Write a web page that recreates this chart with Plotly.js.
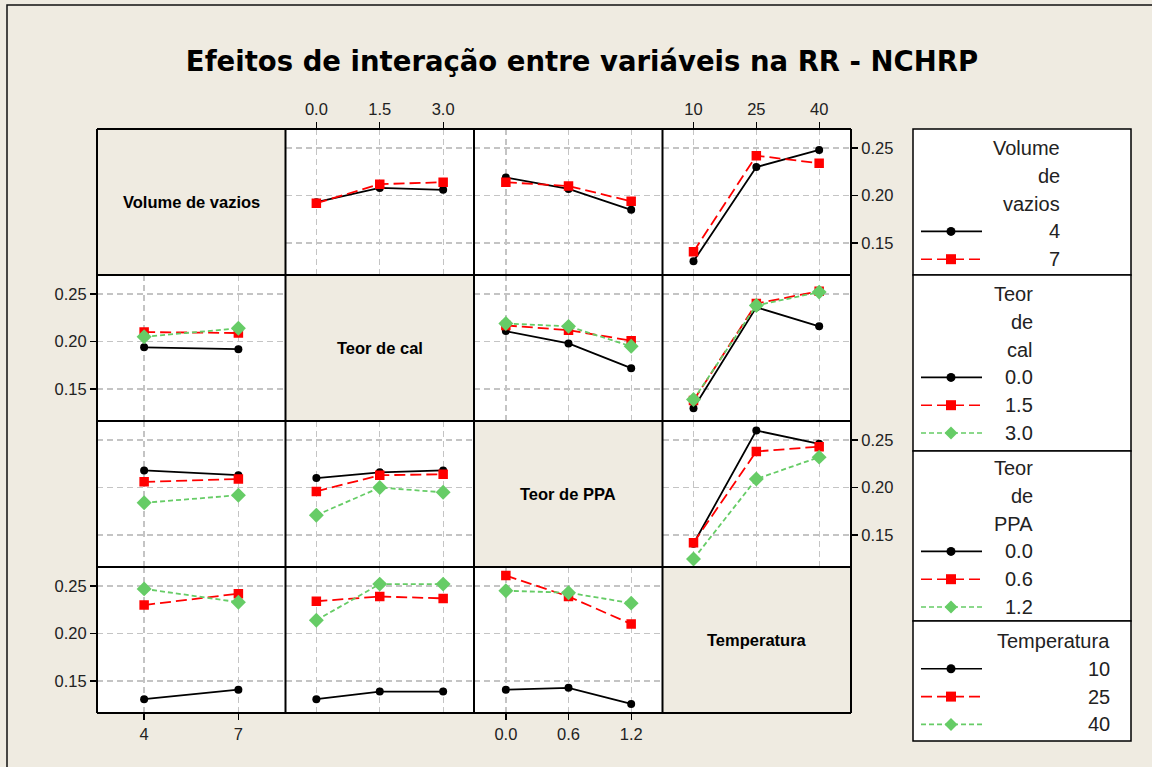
<!DOCTYPE html>
<html>
<head>
<meta charset="utf-8">
<script src="https://cdn.plot.ly/plotly-3.0.1.min.js"></script>
<style>
html,body{margin:0;padding:0;background:#EFEBE1;}
#chart{width:1152px;height:767px;}
</style>
</head>
<body>
<div id="chart"></div>
<script>
// ---------- data ----------
const chartTitle = "Efeitos de interação entre variáveis na RR - NCHRP";
const factorNames = ["Volume de vazios", "Teor de cal", "Teor de PPA", "Temperatura"];
const legendTitles = [["Volume", "de", "vazios"], ["Teor", "de", "cal"], ["Teor", "de", "PPA"], ["Temperatura"]];

const volLevels = [4, 7];
const calLevels = [0, 1.5, 3.0];
const ppaLevels = [0, 0.6, 1.2];
const tempLevels = [10, 25, 40];

const volLabels = ["4", "7"];
const calLabels = ["0.0", "1.5", "3.0"];
const ppaLabels = ["0.0", "0.6", "1.2"];
const tempLabels = ["10", "25", "40"];

const yTickVals = [0.15, 0.20, 0.25];
const yTickText = ["0.15", "0.20", "0.25"];

// Row 1: Volume de vazios (4, 7)
const vv4_cal = [0.193, 0.208, 0.206];
const vv7_cal = [0.192, 0.212, 0.214];
const vv4_ppa = [0.219, 0.207, 0.185];
const vv7_ppa = [0.214, 0.210, 0.194];
const vv4_temp = [0.131, 0.230, 0.248];
const vv7_temp = [0.141, 0.242, 0.234];

// Row 2: Teor de cal (0.0, 1.5, 3.0)
const cal0_vol = [0.194, 0.192];
const cal15_vol = [0.210, 0.209];
const cal30_vol = [0.205, 0.214];
const cal0_ppa = [0.211, 0.198, 0.172];
const cal15_ppa = [0.217, 0.212, 0.201];
const cal30_ppa = [0.219, 0.216, 0.195];
const cal0_temp = [0.130, 0.236, 0.216];
const cal15_temp = [0.138, 0.240, 0.253];
const cal30_temp = [0.139, 0.238, 0.252];

// Row 3: Teor de PPA (0.0, 0.6, 1.2)
const ppa0_vol = [0.218, 0.213];
const ppa06_vol = [0.206, 0.209];
const ppa12_vol = [0.184, 0.192];
const ppa0_cal = [0.210, 0.216, 0.218];
const ppa06_cal = [0.196, 0.213, 0.214];
const ppa12_cal = [0.171, 0.200, 0.195];
const ppa0_temp = [0.141, 0.260, 0.246];
const ppa06_temp = [0.142, 0.238, 0.243];
const ppa12_temp = [0.125, 0.209, 0.232];

// Row 4: Temperatura (10, 25, 40)
const t10_vol = [0.131, 0.141];
const t25_vol = [0.230, 0.242];
const t40_vol = [0.247, 0.233];
const t10_cal = [0.131, 0.139, 0.139];
const t25_cal = [0.234, 0.239, 0.237];
const t40_cal = [0.214, 0.252, 0.252];
const t10_ppa = [0.141, 0.143, 0.126];
const t25_ppa = [0.261, 0.239, 0.210];
const t40_ppa = [0.245, 0.243, 0.232];

// ---------- structure ----------
const levels = [volLevels, calLevels, ppaLevels, tempLevels];
const levelLabels = [volLabels, calLabels, ppaLabels, tempLabels];
const cellData = {
  "0-1": [vv4_cal, vv7_cal], "0-2": [vv4_ppa, vv7_ppa], "0-3": [vv4_temp, vv7_temp],
  "1-0": [cal0_vol, cal15_vol, cal30_vol], "1-2": [cal0_ppa, cal15_ppa, cal30_ppa], "1-3": [cal0_temp, cal15_temp, cal30_temp],
  "2-0": [ppa0_vol, ppa06_vol, ppa12_vol], "2-1": [ppa0_cal, ppa06_cal, ppa12_cal], "2-3": [ppa0_temp, ppa06_temp, ppa12_temp],
  "3-0": [t10_vol, t25_vol, t40_vol], "3-1": [t10_cal, t25_cal, t40_cal], "3-2": [t10_ppa, t25_ppa, t40_ppa]
};

const BEIGE = "#EFEBE1";
const FONT = "Liberation Sans, Arial, sans-serif";
const TFONT = "DejaVu Sans, Verdana, sans-serif";
const styles = [
  {color: "#000000", dash: "solid", symbol: "circle", size: 8},
  {color: "#FF0000", dash: "11px,5px", symbol: "square", size: 9.5},
  {color: "#66CC66", dash: "5px,3px", symbol: "diamond", size: 11.5}
];
const xRanges = [[2.5, 8.5], [-0.73, 3.73], [-0.305, 1.5], [2.6, 47.6]];
const yRange = [0.1165, 0.27];

const W = 1152, H = 767, PL = 97, PR = 851, PT = 129, PB = 713;
const px = x => (x - PL) / (PR - PL);
const py = y => 1 - (y - PT) / (PB - PT);

const traces = [];
const layout = {
  width: W, height: H,
  paper_bgcolor: BEIGE, plot_bgcolor: "#FFFFFF",
  margin: {l: PL, r: W - PR, t: PT, b: H - PB, pad: 0},
  showlegend: false,
  font: {family: FONT, color: "#222"},
  title: {
    text: "<b>" + chartTitle + "</b>",
    font: {family: TFONT, size: 27.5, color: "#000"},
    x: 582 / W, xanchor: "center", y: 1 - 61 / H, yanchor: "middle"
  },
  shapes: [], annotations: []
};

for (let i = 0; i < 4; i++) {
  for (let j = 0; j < 4; j++) {
    const k = i * 4 + j + 1;
    const xa = "xaxis" + (k === 1 ? "" : k);
    const ya = "yaxis" + (k === 1 ? "" : k);
    const xr = "x" + (k === 1 ? "" : k);
    const yr = "y" + (k === 1 ? "" : k);
    const diag = i === j;
    const showTopX = (i === 0 && (j === 1 || j === 3));
    const showBotX = (i === 3 && (j === 0 || j === 2));
    const showRightY = (j === 3 && (i === 0 || i === 2));
    const showLeftY = (j === 0 && (i === 1 || i === 3));
    layout[xa] = {
      domain: [j * 0.25, (j + 1) * 0.25], anchor: yr, range: xRanges[j],
      tickvals: levels[j], ticktext: levelLabels[j],
      showgrid: !diag, gridcolor: "#C4C4C4", gridwidth: 1.3, griddash: "6px,4px",
      zeroline: false, showline: false,
      side: showTopX ? "top" : "bottom",
      ticks: (showTopX || showBotX) ? "outside" : "", ticklen: 6, tickwidth: 1.3, tickcolor: "#000",
      showticklabels: showTopX || showBotX,
      tickfont: {family: FONT, size: 16.5, color: "#222"}, fixedrange: true
    };
    layout[ya] = {
      domain: [1 - (i + 1) * 0.25, 1 - i * 0.25], anchor: xr, range: yRange,
      tickvals: yTickVals, ticktext: yTickText,
      showgrid: !diag, gridcolor: "#C4C4C4", gridwidth: 1.3, griddash: "6px,4px",
      zeroline: false, showline: false,
      side: showRightY ? "right" : "left",
      ticks: (showRightY || showLeftY) ? "outside" : "", ticklen: 6, tickwidth: 1.3, tickcolor: "#000",
      showticklabels: showRightY || showLeftY,
      tickfont: {family: FONT, size: 16.5, color: "#222"}, fixedrange: true
    };
    if (diag) {
      // empty trace so the subplot exists
      traces.push({type: "scatter", mode: "markers", x: [], y: [], xaxis: xr, yaxis: yr, hoverinfo: "skip"});
      layout.shapes.push({type: "rect", xref: xr + " domain", yref: yr + " domain", x0: 0, x1: 1, y0: 0, y1: 1,
        fillcolor: BEIGE, line: {width: 0}, layer: "below"});
      layout.annotations.push({xref: xr + " domain", yref: yr + " domain", x: 0.5, y: 0.5, showarrow: false,
        text: "<b>" + factorNames[i] + "</b>", font: {family: FONT, size: 16.5, color: "#000"}});
    } else {
      const series = cellData[i + "-" + j];
      series.forEach((vals, s) => {
        const st = styles[s];
        traces.push({
          type: "scatter", mode: "lines+markers", xaxis: xr, yaxis: yr,
          x: levels[j], y: vals,
          name: factorNames[i] + " " + levelLabels[i][s],
          line: {color: st.color, width: 1.8, dash: st.dash},
          marker: {color: st.color, symbol: st.symbol, size: st.size},
          hoverinfo: "x+y+name"
        });
      });
    }
  }
}

// cell borders
[0, 0.25, 0.5, 0.75, 1].forEach(v => {
  layout.shapes.push({type: "line", xref: "paper", yref: "paper", x0: v, x1: v, y0: 0, y1: 1,
    line: {color: "#000", width: 2}, layer: "above"});
  layout.shapes.push({type: "line", xref: "paper", yref: "paper", x0: 0, x1: 1, y0: v, y1: v,
    line: {color: "#000", width: 2}, layer: "above"});
});

// ---------- legends (boxes at right) ----------
const legBoxes = [
  {top: 129, bottom: 275, first: 148, right: 1062},
  {top: 275, bottom: 451, first: 294, right: 1035},
  {top: 451, bottom: 621, first: 468, right: 1035},
  {top: 621, bottom: 741, first: 641, right: 1112}
];
const LEG_L = 913, LEG_R = 1131, LINE_H = 27.8;
legBoxes.forEach((b, f) => {
  layout.shapes.push({type: "rect", xref: "paper", yref: "paper",
    x0: px(LEG_L), x1: px(LEG_R), y0: py(b.bottom), y1: py(b.top),
    fillcolor: "#FFFFFF", line: {color: "#000", width: 1.5}, layer: "below"});
  let y = b.first;
  legendTitles[f].forEach(w => {
    layout.annotations.push({xref: "paper", yref: "paper", x: px(b.right), y: py(y), xanchor: "right", yanchor: "middle",
      showarrow: false, text: w, font: {family: FONT, size: 20, color: "#222"}});
    y += LINE_H;
  });
  levelLabels[f].forEach((lab, s) => {
    const st = styles[s];
    layout.shapes.push({type: "line", xref: "paper", yref: "paper", x0: px(921), x1: px(982), y0: py(y), y1: py(y),
      line: {color: st.color, width: 1.6, dash: st.dash}});
    const common = {xref: "paper", yref: "paper", xsizemode: "pixel", ysizemode: "pixel",
      xanchor: px(951), yanchor: py(y), fillcolor: st.color, line: {width: 0}};
    if (st.symbol === "circle") layout.shapes.push(Object.assign({type: "circle", x0: -4.5, x1: 4.5, y0: -4.5, y1: 4.5}, common));
    else if (st.symbol === "square") layout.shapes.push(Object.assign({type: "rect", x0: -5, x1: 5, y0: -5, y1: 5}, common));
    else layout.shapes.push(Object.assign({type: "path", path: "M0,6.5 L6.5,0 L0,-6.5 L-6.5,0 Z"}, common));
    layout.annotations.push({xref: "paper", yref: "paper", x: px(b.right), y: py(y), xanchor: "right", yanchor: "middle",
      showarrow: false, text: lab, font: {family: FONT, size: 20, color: "#222"}});
    y += LINE_H;
  });
});

// outer frame
layout.shapes.push({type: "rect", xref: "paper", yref: "paper", x0: px(7), x1: px(1170), y0: py(790), y1: py(5),
  fillcolor: "rgba(0,0,0,0)", line: {color: "#111", width: 1.5}, layer: "below"});

Plotly.newPlot("chart", traces, layout, {displayModeBar: false, staticPlot: true});
</script>
</body>
</html>
